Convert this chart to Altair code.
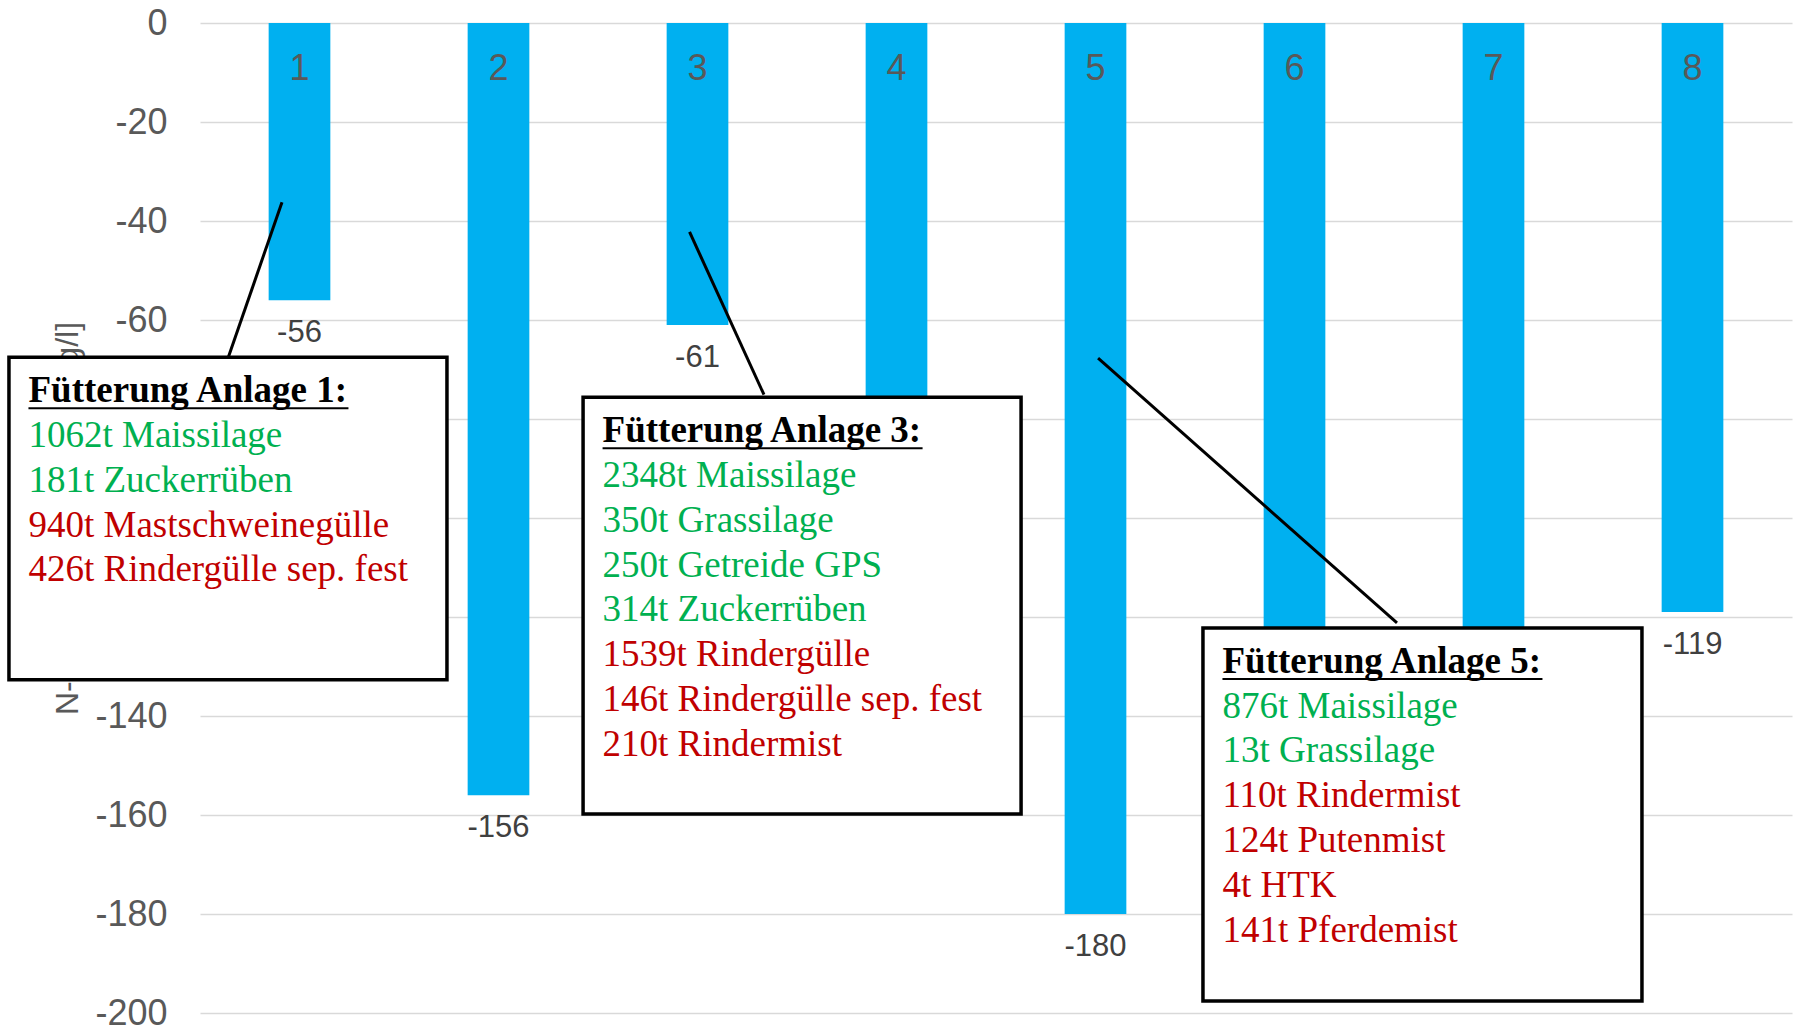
import altair as alt
import pandas as pd

# --- chart values -----------------------------------------------------------
anlagen = ["1", "2", "3", "4", "5", "6", "7", "8"]
n_werte = [-56, -156, -61, -110, -180, -150, -140, -119]
y_ticks = [0, -20, -40, -60, -80, -100, -120, -140, -160, -180, -200]
y_titel = "N-Saldo der Fütterung [kg/l]"

# feeding of the annotated plants (green: plant input, red: manure input)
titel_boxen = ["Fütterung Anlage 1:", "Fütterung Anlage 3:", "Fütterung Anlage 5:"]
pflanzlich = [
    ["1062t Maissilage", "181t Zuckerrüben"],
    ["2348t Maissilage", "350t Grassilage", "250t Getreide GPS", "314t Zuckerrüben"],
    ["876t Maissilage", "13t Grassilage"],
]
tierisch = [
    ["940t Mastschweinegülle", "426t Rindergülle sep. fest"],
    ["1539t Rindergülle", "146t Rindergülle sep. fest", "210t Rindermist"],
    ["110t Rindermist", "124t Putenmist", "4t HTK", "141t Pferdemist"],
]

# --- layout -----------------------------------------------------------------
W, H = 1592, 990
PX_X = W / len(anlagen)      # pixels per bar slot
PX_Y = H / 200               # pixels per value unit

# annotation boxes in (slot, value) units; slot i is the centre of bar i
box_links = [-0.46, 2.425, 5.54]
box_rechts = [1.741, 4.626, 7.746]
box_oben = [-67.5, -75.6, -122.2]
box_unten = [-132.7, -159.8, -197.6]
# callout lines: start inside the bar, end on the box edge
linie_x1 = [0.912, 2.96, 5.013]
linie_y1 = [-36.2, -42.2, -67.7]
linie_x2 = [0.641, 3.334, 6.515]
linie_y2 = [-67.7, -75.1, -121.2]

TEXT_INSET = 19.5 / PX_X
ERSTE_ZEILE = 45 / PX_Y
ZEILE = 44.8 / PX_Y
UNTERSTRICH = 6 / PX_Y
TITEL_BREITE = 320 / PX_X

SANS = "Liberation Sans"
SERIF = "Liberation Serif"

# --- data frames ------------------------------------------------------------
bars_df = pd.DataFrame({"anlage": anlagen, "wert": n_werte, "basis": [0] * len(anlagen)})

boxes_df = pd.DataFrame({"x": box_links, "x2": box_rechts, "y": box_oben, "y2": box_unten})
linien_df = pd.DataFrame({"x": linie_x1, "y": linie_y1, "x2": linie_x2, "y2": linie_y2})

titel_rows, zeilen_rows, strich_rows = [], [], []
for j, titel in enumerate(titel_boxen):
    tx = box_links[j] + TEXT_INSET
    ty = box_oben[j] - ERSTE_ZEILE
    titel_rows.append({"x": tx, "y": ty, "text": titel})
    strich_rows.append({"x": tx, "x2": tx + TITEL_BREITE, "y": ty - UNTERSTRICH})
    eintraege = [(t, "pflanzlich") for t in pflanzlich[j]] + [(t, "tierisch") for t in tierisch[j]]
    for i, (t, art) in enumerate(eintraege):
        zeilen_rows.append({"x": tx, "y": ty - ZEILE * (i + 1), "text": t, "art": art})

titel_df = pd.DataFrame(titel_rows)
zeilen_df = pd.DataFrame(zeilen_rows)
strich_df = pd.DataFrame(strich_rows)

# --- encodings ---------------------------------------------------------------
y_scale = alt.Scale(domain=[-200, 0], nice=False)
x_band = alt.X("anlage:N", sort=anlagen, axis=None,
               scale=alt.Scale(paddingInner=0.69, paddingOuter=0.345))
slot_scale = alt.Scale(domain=[0.5, 8.5], nice=False, zero=False)

# one shared left axis: grey gridlines, plain hyphen minus signs
y_axis = alt.Axis(
    values=y_ticks, grid=True, gridColor="#D9D9D9", gridWidth=1.5,
    domain=False, ticks=False, labelExpr="'' + datum.value",
    labelFont=SANS, labelFontSize=36, labelColor="#595959", labelPadding=33,
    title=y_titel, titleFont=SANS, titleFontSize=32, titleFontWeight="normal",
    titleColor="#595959", titleAngle=-90, titleX=-123, titleY=H / 2,
    titleAlign="center", titleBaseline="alphabetic",
)


def sx(field):
    return alt.X(f"{field}:Q", scale=slot_scale, axis=None)


def sy(field):
    return alt.Y(f"{field}:Q", scale=y_scale, axis=y_axis)


bars = alt.Chart(bars_df).mark_bar(color="#00B0F0").encode(x=x_band, y=sy("wert"))

wert_labels = alt.Chart(bars_df).transform_calculate(
    label="'' + datum.wert"
).mark_text(
    dy=33, baseline="middle", font=SANS, fontSize=31, color="#404040"
).encode(x=x_band, y=sy("wert"), text="label:N")

kat_labels = alt.Chart(bars_df).mark_text(
    dy=46, baseline="middle", font=SANS, fontSize=36, color="#595959"
).encode(x=x_band, y=sy("basis"), text="anlage:N")

linien = alt.Chart(linien_df).mark_rule(color="black", strokeWidth=3).encode(
    x=sx("x"), x2="x2:Q", y=sy("y"), y2="y2:Q"
)

boxen = alt.Chart(boxes_df).mark_rect(fill="white", stroke="black", strokeWidth=3.5).encode(
    x=sx("x"), x2="x2:Q", y=sy("y"), y2="y2:Q"
)

striche = alt.Chart(strich_df).mark_rule(color="black", strokeWidth=2).encode(
    x=sx("x"), x2="x2:Q", y=sy("y")
)

titel = alt.Chart(titel_df).mark_text(
    align="left", baseline="alphabetic", font=SERIF, fontSize=37,
    fontWeight="bold", color="black"
).encode(x=sx("x"), y=sy("y"), text="text:N")

zeilen = alt.Chart(zeilen_df).mark_text(
    align="left", baseline="alphabetic", font=SERIF, fontSize=37
).encode(
    x=sx("x"), y=sy("y"), text="text:N",
    color=alt.Color("art:N", legend=None,
                    scale=alt.Scale(domain=["pflanzlich", "tierisch"],
                                    range=["#00B050", "#C00000"])),
)

chart = (
    alt.layer(bars, wert_labels, kat_labels, linien, boxen, striche, titel, zeilen)
    .resolve_scale(x="independent")
    .properties(
        width=W, height=H,
        autosize=alt.AutoSizeParams(type="none"),
        padding={"left": 200, "top": 23, "right": 1, "bottom": 14},
        background="white",
    )
    .configure_view(stroke=None)
)

chart.save("out.html", embed_options={"renderer": "svg", "actions": False})
